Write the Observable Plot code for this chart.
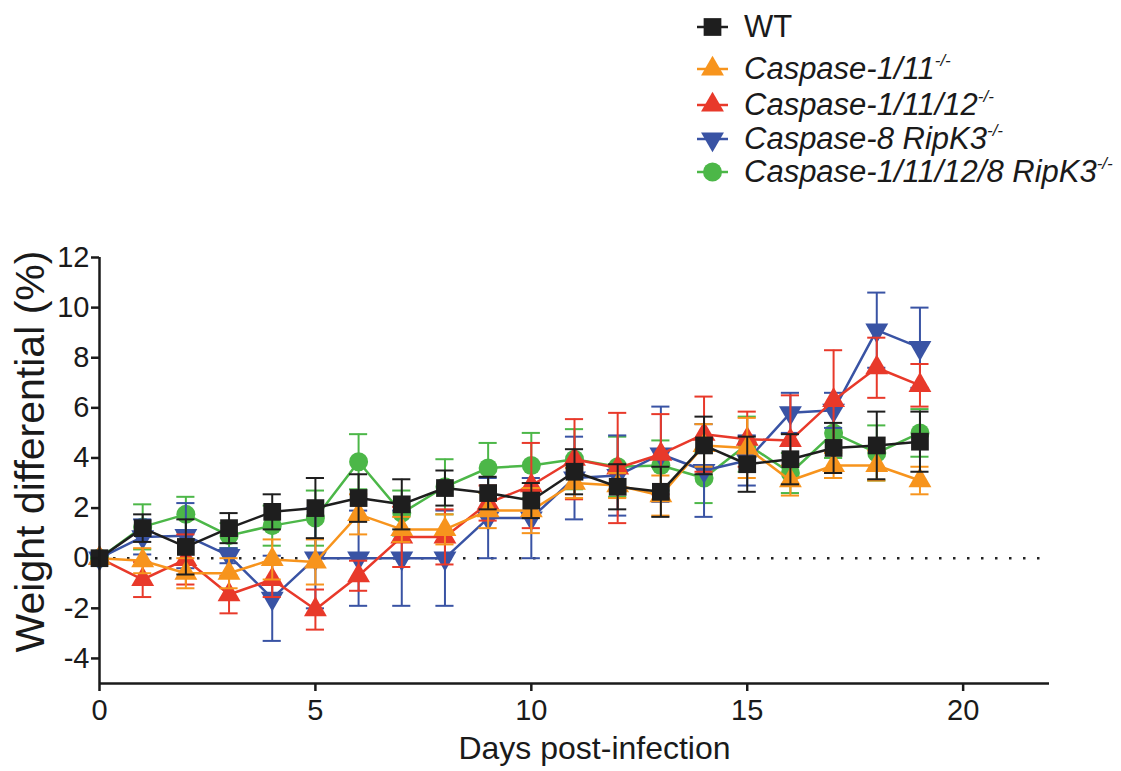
<!DOCTYPE html>
<html>
<head>
<meta charset="utf-8">
<script src="https://cdn.jsdelivr.net/npm/d3@7"></script>
<script src="https://cdn.jsdelivr.net/npm/@observablehq/plot@0.6"></script>
<style>
  html, body { margin: 0; padding: 0; background: #fff; }
  #wrap { width: 1121px; height: 771px; position: relative; font-family: "Liberation Sans", Arial, sans-serif; }
  #legend { position: relative; width: 1121px; height: 200px; }
  .row { position: absolute; left: 695px; height: 36px; display: flex; align-items: center; }
  .row svg { display: block; }
  .row span { font-size: 31px; color: #1a1a1a; margin-left: 1px; white-space: nowrap; }
  .row sup { font-size: 17px; vertical-align: 13px; line-height: 0; }
  .it { font-style: italic; }
</style>
</head>
<body>
<div id="wrap">
  <div id="legend"></div>
  <div id="chart"></div>
</div>
<script>
// ---- data ----
const days = [0,1,2,3,4,5,6,7,8,9,10,11,12,13,14,15,16,17,18,19];

const seriesNames = ["WT", "Caspase-1/11", "Caspase-1/11/12", "Caspase-8 RipK3", "Caspase-1/11/12/8 RipK3"];
const seriesColors = ["#1e1e1e", "#f7941d", "#e8392a", "#3953a4", "#4cb748"];
const seriesSymbols = ["square", "triangle", "triangle", "triangleDown", "circle"];

const wtMean   = [0,1.2,0.45,1.2,1.85,2.0,2.4,2.15,2.8,2.6,2.3,3.45,2.85,2.65,4.5,3.75,3.95,4.4,4.5,4.65];
const wtErr    = [0,0.55,1.1,0.6,0.7,1.2,0.95,1.0,0.7,0.65,0.7,0.9,0.9,1.0,1.15,1.1,1.0,1.0,1.35,1.2];

const c111Mean = [0,-0.1,-0.6,-0.6,-0.05,-0.15,1.75,1.15,1.15,1.9,1.9,3.0,2.9,2.5,4.5,4.4,3.1,3.7,3.7,3.1];
const c111Err  = [0,0.5,0.6,0.6,0.8,0.9,0.8,0.5,0.6,0.7,0.9,0.6,0.5,0.8,0.85,1.2,0.6,0.5,0.6,0.55];

const c11112Mean = [0,-0.85,-0.05,-1.45,-0.85,-2.05,-0.7,0.85,0.85,2.2,2.9,3.95,3.6,4.15,4.95,4.75,4.7,6.3,7.6,6.9];
const c11112Err  = [0,0.7,1.0,0.75,0.7,0.8,0.6,1.2,1.1,0.7,1.7,1.6,2.2,1.6,1.5,1.1,1.8,2.0,1.2,0.85];

const c8Mean = [0,0.85,0.9,0.1,-1.6,0,0,0,0,1.6,1.6,3.2,3.3,4.15,3.5,3.9,5.8,5.9,9.1,8.4];
const c8Err  = [0,0.7,1.3,0.3,1.7,2.0,1.9,1.9,1.9,1.6,1.6,1.65,1.6,1.9,1.85,1.0,0.8,0.7,1.5,1.6];

const allMean = [0,1.25,1.75,0.9,1.3,1.6,3.85,1.8,2.85,3.6,3.7,3.95,3.65,3.7,3.2,4.55,3.4,5.0,4.2,5.0];
const allErr  = [0,0.9,0.7,0.5,0.8,1.1,1.1,0.9,1.1,1.0,1.3,1.2,1.2,1.0,1.0,1.1,0.8,1.0,1.1,0.95];

const xTicks = [0,5,10,15,20];
const yTicks = [-4,-2,0,2,4,6,8,10,12];
const xDomain = [0,22];
const yDomain = [-5,12];

// ---- symbols ----
const sqrt3 = Math.sqrt(3);
const triangleDown = {
  draw(ctx, size) {
    const y = -Math.sqrt(size / (sqrt3 * 3));
    ctx.moveTo(0, -y * 2);
    ctx.lineTo(-sqrt3 * y, y);
    ctx.lineTo(sqrt3 * y, y);
    ctx.closePath();
  }
};
const symbolFor = s => s === "triangleDown" ? triangleDown : s;
const radiusFor = s => s === "square" ? 10 : s === "circle" ? 9.5 : 8.5;

const means = [wtMean, c111Mean, c11112Mean, c8Mean, allMean];
const errs = [wtErr, c111Err, c11112Err, c8Err, allErr];

const rows = [];
seriesNames.forEach((name, i) => {
  days.forEach((d, j) => rows.push({series: name, day: d, value: means[i][j], err: errs[i][j]}));
});

// draw order: green, blue, red, orange, black on top
const drawOrder = [4, 3, 2, 1, 0];
const marks = [];
marks.push(Plot.ruleY([0], {stroke: "#222", strokeWidth: 2.5, strokeDasharray: "2.5,11.5"}));
for (const i of drawOrder) {
  const data = rows.filter(r => r.series === seriesNames[i]);
  const eb = data.filter(r => r.err > 0);
  const c = seriesColors[i];
  marks.push(Plot.ruleX(eb, {x: "day", y1: r => r.value - r.err, y2: r => r.value + r.err, stroke: c, strokeWidth: 2}));
  marks.push(Plot.ruleY(eb, {y: r => r.value + r.err, x1: r => r.day - 0.21, x2: r => r.day + 0.21, stroke: c, strokeWidth: 2}));
  marks.push(Plot.ruleY(eb, {y: r => r.value - r.err, x1: r => r.day - 0.21, x2: r => r.day + 0.21, stroke: c, strokeWidth: 2}));
  marks.push(Plot.line(data, {x: "day", y: "value", stroke: c, strokeWidth: 2.5}));
  marks.push(Plot.dot(data, {x: "day", y: "value", fill: c, stroke: "none", symbol: symbolFor(seriesSymbols[i]), r: radiusFor(seriesSymbols[i])}));
}
marks.push(Plot.ruleX([0], {stroke: "#1a1a1a", strokeWidth: 2.5}));
marks.push(Plot.ruleY([yDomain[0]], {stroke: "#1a1a1a", strokeWidth: 2.5}));
marks.push(Plot.axisX({ticks: xTicks, tickSize: 8, tickPadding: 8, tickFormat: d => String(d), fontSize: 29, label: null, strokeWidth: 2.5, stroke: "#1a1a1a"}));
marks.push(Plot.axisY({ticks: yTicks, tickSize: 8, tickPadding: 2, tickFormat: d => String(d), fontSize: 29, label: null, strokeWidth: 2.5, stroke: "#1a1a1a"}));
marks.push(Plot.text(["Days post-infection"], {frameAnchor: "bottom", dy: 75, dx: 20, fontSize: 32, fill: "#1a1a1a"}));
marks.push(Plot.text(["Weight differential (%)"], {frameAnchor: "left", textAnchor: "middle", rotate: -90, dx: -69, dy: -19, fontSize: 41, fill: "#1a1a1a"}));

const chart = Plot.plot({
  width: 1121,
  height: 571,
  marginTop: 57,
  marginBottom: 88,
  marginLeft: 99,
  marginRight: 72,
  x: {domain: xDomain},
  y: {domain: yDomain},
  style: {fontFamily: '"Liberation Sans", Arial, sans-serif', color: "#1a1a1a", background: "#fff", overflow: "visible"},
  marks
});
document.getElementById("chart").appendChild(chart);

// ---- legend (HTML) ----
const legendTops = [9, 51, 87, 121, 154];
const legend = document.getElementById("legend");
seriesNames.forEach((name, i) => {
  const row = document.createElement("div");
  row.className = "row";
  row.style.top = legendTops[i] + "px";
  const sym = seriesSymbols[i] === "square" ? d3.symbolSquare : seriesSymbols[i] === "circle" ? d3.symbolCircle : d3.symbolTriangle;
  const r = radiusFor(seriesSymbols[i]);
  const path = d3.symbol(sym, Math.PI * r * r)();
  const flip = seriesSymbols[i] === "triangleDown" ? " scale(1,-1)" : "";
  row.innerHTML = `<svg width="48" height="36"><line x1="2" x2="33" y1="18" y2="18" stroke="${seriesColors[i]}" stroke-width="2.5"/><path d="${path}" transform="translate(17.5,18)${flip}" fill="${seriesColors[i]}"/></svg>` +
    (i === 0 ? `<span>${name}</span>` : `<span class="it">${name}<sup>-/-</sup></span>`);
  legend.appendChild(row);
});
</script>
</body>
</html>
